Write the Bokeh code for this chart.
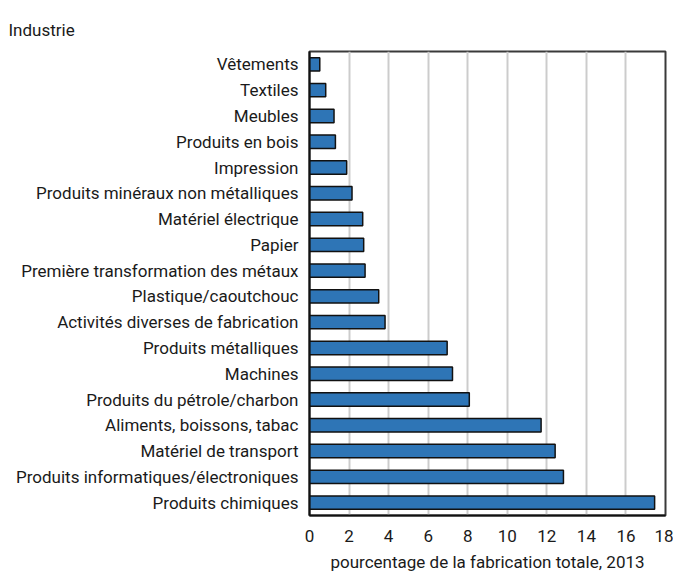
from bokeh.plotting import figure
from bokeh.models import Range1d, FactorRange, Title, SingleIntervalTicker
from bokeh.embed import file_html
from bokeh.resources import INLINE

categories = [
    "Vêtements",
    "Textiles",
    "Meubles",
    "Produits en bois",
    "Impression",
    "Produits minéraux non métalliques",
    "Matériel électrique",
    "Papier",
    "Première transformation des métaux",
    "Plastique/caoutchouc",
    "Activités diverses de fabrication",
    "Produits métalliques",
    "Machines",
    "Produits du pétrole/charbon",
    "Aliments, boissons, tabac",
    "Matériel de transport",
    "Produits informatiques/électroniques",
    "Produits chimiques",
]
values = [0.52, 0.82, 1.24, 1.31, 1.88, 2.15, 2.69, 2.74, 2.81, 3.50, 3.82,
          6.96, 7.23, 8.08, 11.71, 12.42, 12.84, 17.45]
title_text = "Industrie"
xlabel_text = "pourcentage de la fabrication totale, 2013"

FONT = "Roboto"
FS = "17px"
TXT = "#1a1a1a"

p = figure(
    y_range=FactorRange(factors=categories[::-1]),
    x_range=Range1d(0, 18),
    width=673, height=574,
    output_backend="svg", toolbar_location=None,
    min_border_left=309, min_border_right=8,
    min_border_top=51, min_border_bottom=57,
)
p.background_fill_color = "white"
p.border_fill_color = "white"
p.outline_line_color = "#3a3a3a"
p.outline_line_width = 2

p.hbar(y=categories, right=values, left=0, height=0.52,
       fill_color="#2E75B6", line_color="#111111", line_width=1.5)

p.xaxis.ticker = SingleIntervalTicker(interval=2)
p.xaxis.minor_tick_line_color = None
p.xaxis.major_tick_out = 0
p.xaxis.major_tick_in = 0
p.xaxis.axis_line_color = "#111111"
p.xaxis.axis_line_width = 2
p.xaxis.major_label_standoff = 10
p.xaxis.major_label_text_font = FONT
p.xaxis.major_label_text_font_size = FS
p.xaxis.major_label_text_color = TXT
p.xaxis.axis_label = xlabel_text
p.xaxis.axis_label_text_font = FONT
p.xaxis.axis_label_text_font_size = FS
p.xaxis.axis_label_text_font_style = "normal"
p.xaxis.axis_label_text_color = TXT
p.xaxis.axis_label_standoff = 7

p.yaxis.major_tick_out = 0
p.yaxis.major_tick_in = 0
p.yaxis.minor_tick_line_color = None
p.yaxis.axis_line_color = "#111111"
p.yaxis.axis_line_width = 2
p.yaxis.major_label_standoff = 11
p.yaxis.major_label_text_font = FONT
p.yaxis.major_label_text_font_size = FS
p.yaxis.major_label_text_color = TXT

p.xgrid.grid_line_color = "#cccccc"
p.xgrid.grid_line_width = 2
p.ygrid.grid_line_color = None

# trailing blank line lifts the title text within its bottom-anchored box
p.add_layout(Title(text=title_text + "\n ", align="left", offset=-301,
                   vertical_align="bottom", standoff=0,
                   text_line_height=0.6,
                   text_font=FONT, text_font_size=FS,
                   text_font_style="normal", text_color=TXT), "above")

open("out.html", "w").write(file_html(p, INLINE))
